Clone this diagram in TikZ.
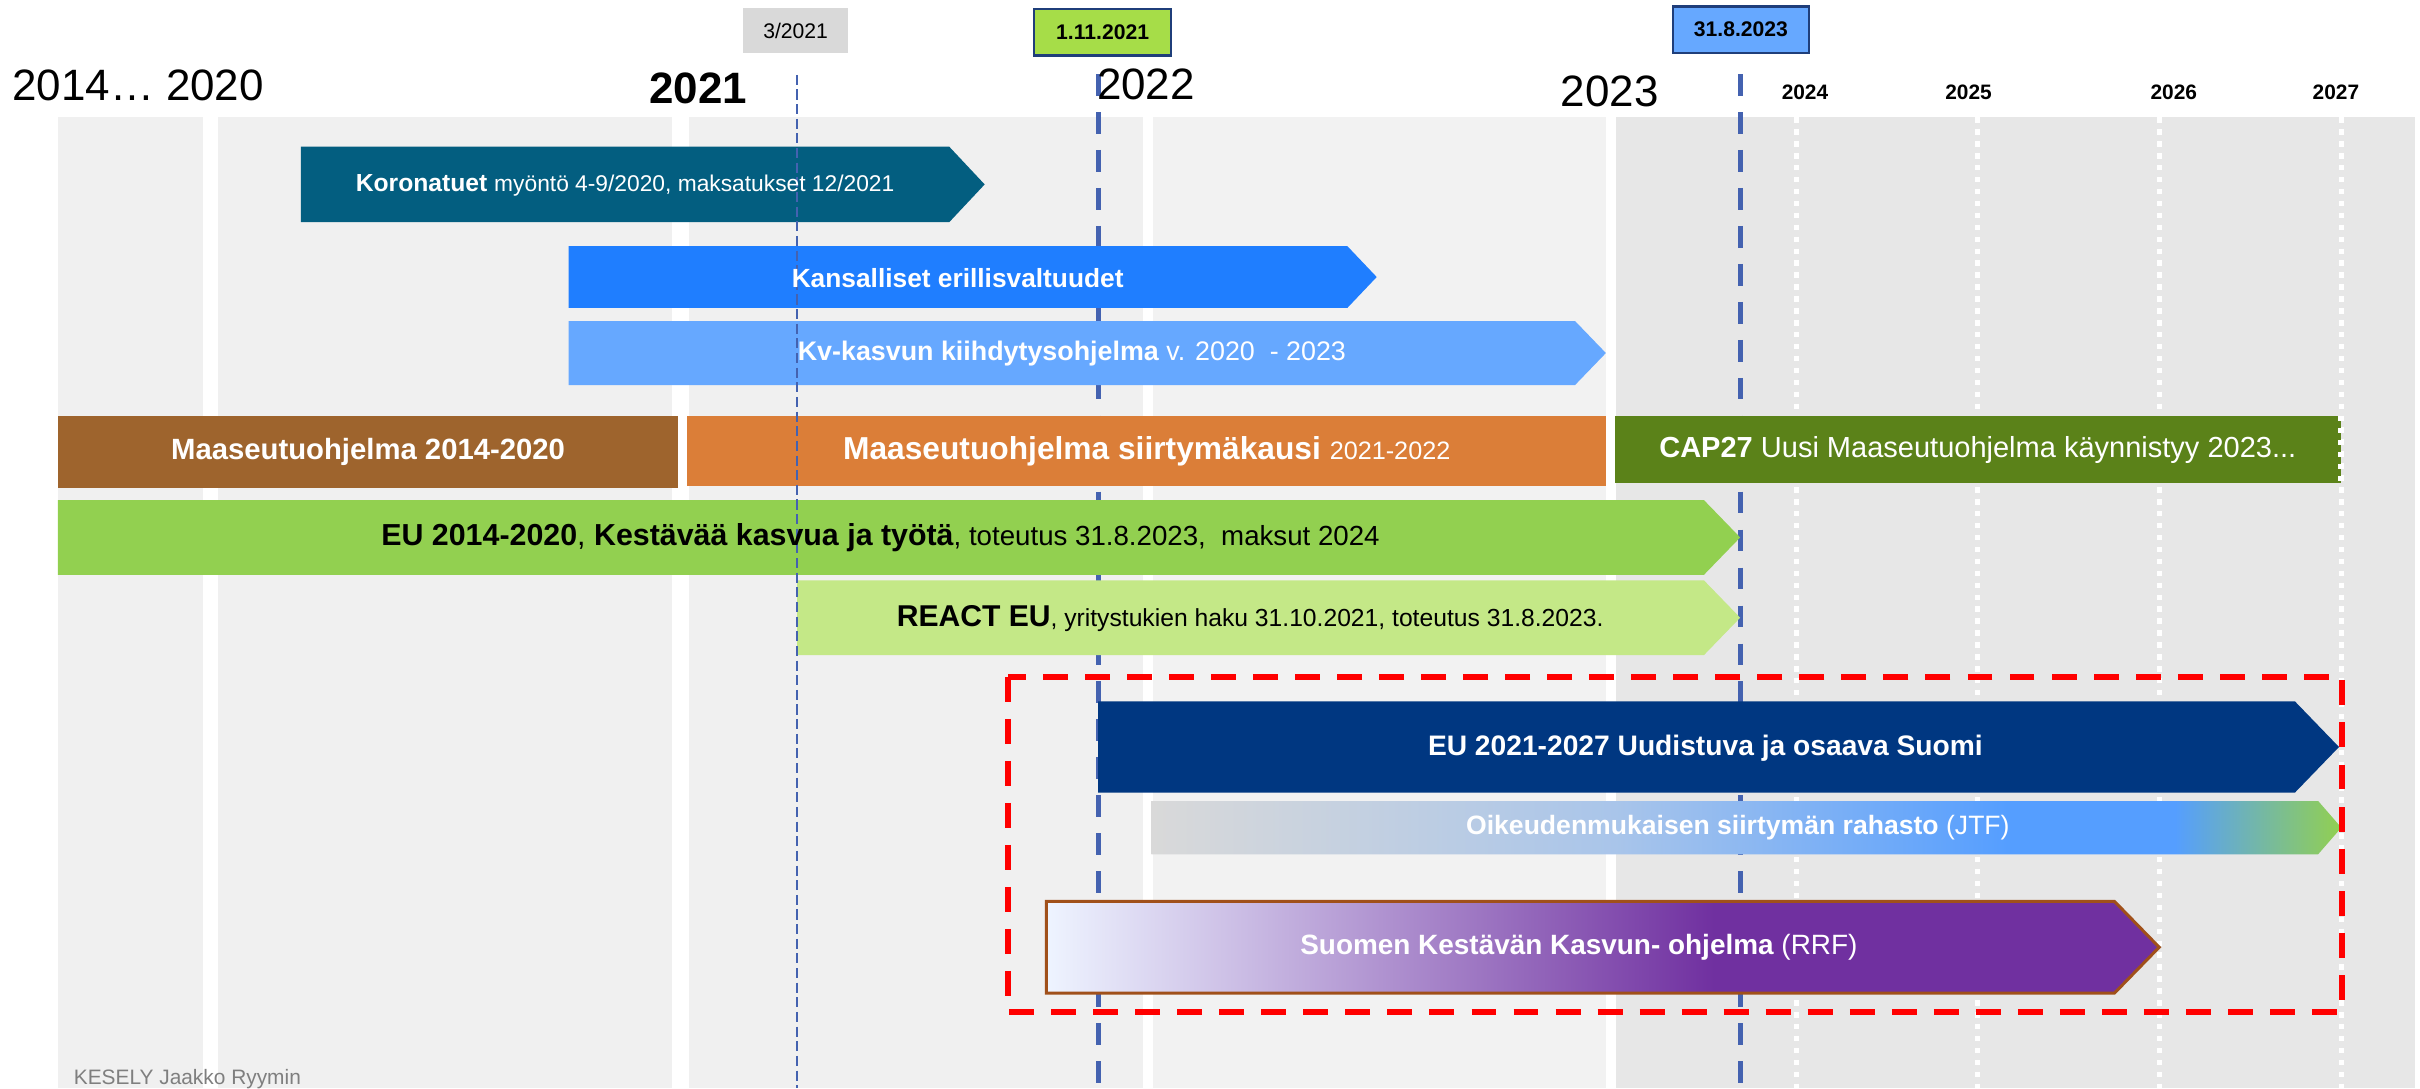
\documentclass[tikz,border=0pt]{standalone}
\usepackage{fontspec}
\setmainfont{Liberation Sans}
\newcommand\fsz[1]{\fontsize{#1}{#1}\selectfont}
\definecolor{panelA}{HTML}{F0F0F0}
\definecolor{panelB}{HTML}{F2F2F2}
\definecolor{panelC}{HTML}{E7E7E7}
\definecolor{korona}{HTML}{035E80}
\definecolor{kansal}{HTML}{1F7EFF}
\definecolor{kvk}{HTML}{66A8FF}
\definecolor{mbrown}{HTML}{9E642D}
\definecolor{morange}{HTML}{DB7E38}
\definecolor{capgreen}{HTML}{5B8219}
\definecolor{eugreen}{HTML}{92D050}
\definecolor{reactgreen}{HTML}{C4E887}
\definecolor{eunavy}{HTML}{003781}
\definecolor{dashblue}{HTML}{4462B0}
\definecolor{boxgray}{HTML}{D9D9D9}
\definecolor{boxgreen}{HTML}{A6DD48}
\definecolor{boxblue}{HTML}{66A8FF}
\definecolor{boxborder}{HTML}{1F3E7A}
\definecolor{rrfborder}{HTML}{A0501A}
\definecolor{jtfA}{HTML}{D9D9D9}
\definecolor{jtfB}{HTML}{A9C5EA}
\definecolor{jtfC}{HTML}{559EFF}
\definecolor{rrfA}{HTML}{EEF4FF}
\definecolor{rrfB}{HTML}{D2C8EA}
\definecolor{rrfC}{HTML}{7030A0}
\definecolor{credit}{HTML}{7F7F7F}
\pgfdeclarehorizontalshading{jtfshade}{100bp}{color(0bp)=(jtfA); color(25bp)=(jtfA); color(44.5bp)=(jtfB); color(61bp)=(jtfC); color(68bp)=(jtfC); color(75bp)=(eugreen); color(100bp)=(eugreen)}
\pgfdeclarehorizontalshading{rrfshade}{100bp}{color(0bp)=(rrfA); color(25bp)=(rrfA); color(32bp)=(rrfB); color(55bp)=(rrfC); color(100bp)=(rrfC)}
\tikzset{
  txt/.style={inner sep=0pt, text=white, anchor=center},
  blacktxt/.style={inner sep=0pt, text=black, anchor=center},
  yearbig/.style={inner sep=0pt, anchor=base, text=black, font=\fsz{16.2}},
  yearsmall/.style={inner sep=0pt, anchor=base, text=black, font=\fsz{7.7}\bfseries},
  datebox/.style={inner sep=0pt, font=\fsz{7.8}},
  wdot/.style={draw=white, line width=1.9pt, dash pattern=on 2pt off 2.4pt},
  tdash/.style={draw=dashblue, line width=1.9pt, dash pattern=on 8pt off 6pt},
  thdash/.style={draw=dashblue, line width=0.8pt, dash pattern=on 3.7pt off 1.7pt},
  reddash/.style={draw=red, line width=2.1pt, dash pattern=on 9.2pt off 6.3pt}
}
\begin{document}
\begin{tikzpicture}[x=0.02cm,y=-0.02cm]
\useasboundingbox (0,0) rectangle (1568,705);
\fill[white] (0,0) rectangle (1568,705);
% background year panels
\fill[panelA] (37.5,76) rectangle (131.5,705);
\fill[panelA] (141,76) rectangle (435.5,705);
\fill[panelA] (446.5,76) rectangle (740.5,705);
\fill[panelB] (747,76) rectangle (1040.5,705);
\fill[panelC] (1047,76) rectangle (1565,705);
\foreach \x in {1164,1281,1399,1517} \draw[wdot] (\x,76) -- (\x,705);
% thick dashed milestone lines
\draw[tdash] (711.5,48) -- (711.5,705);
\draw[tdash] (1127.5,48) -- (1127.5,705);
% bars
\fill[korona] (195,95) -- (615,95) -- (638,119.5) -- (615,144) -- (195,144) -- cycle;
\fill[kansal] (368.5,159.5) -- (873,159.5) -- (892,179.5) -- (873,199.5) -- (368.5,199.5) -- cycle;
\fill[kvk] (368.5,208) -- (1020.5,208) -- (1040.5,228.75) -- (1020.5,249.5) -- (368.5,249.5) -- cycle;
\fill[mbrown] (37.5,269.5) rectangle (439.5,316);
\fill[morange] (445,269.5) rectangle (1040.5,315);
\fill[capgreen] (1046.5,269.5) rectangle (1517,313);
\draw[wdot] (1516.5,269.5) -- (1516.5,313);
\fill[eugreen] (37.5,324) -- (1104,324) -- (1127.5,348.25) -- (1104,372.5) -- (37.5,372.5) -- cycle;
\fill[reactgreen] (516.5,376) -- (1104,376) -- (1127.5,400.25) -- (1104,424.5) -- (516.5,424.5) -- cycle;
\fill[eunavy] (711.5,454.5) -- (1487,454.5) -- (1515.5,484) -- (1487,513.5) -- (711.5,513.5) -- cycle;
\shade[shading=jtfshade] (746,519) -- (1502,519) -- (1517,536.25) -- (1502,553.5) -- (746,553.5) -- cycle;
\shade[shading=rrfshade, draw=rrfborder, line width=1.1pt] (678,584) -- (1370,584) -- (1399,613.75) -- (1370,643.5) -- (678,643.5) -- cycle;
% frame of the new period
\draw[reddash] (653,438.5) rectangle (1517.5,655.5);
\draw[thdash] (516.5,48.5) -- (516.5,705);
% year labels
\node[yearbig] (y2014) at (89.5,64.8) {2014… 2020};
\node[yearbig, font=\fsz{16.2}\bfseries] (y2021) at (452.5,67) {2021};
\node[yearbig] (y2022) at (742.5,64.2) {2022};
\node[yearbig] (y2023) at (1043,68.7) {2023};
\node[yearsmall] (y2024) at (1169.5,64.4) {2024};
\node[yearsmall] (y2025) at (1275.5,64.4) {2025};
\node[yearsmall] (y2026) at (1408.5,64.4) {2026};
\node[yearsmall] (y2027) at (1513.5,64.4) {2027};
% date boxes
\node[datebox, fill=boxgray, minimum width=1.36cm, minimum height=0.574cm] (d1) at (515.5,19.8) {3/2021};
\node[datebox, fill=boxgreen, draw=boxborder, line width=0.9pt, minimum width=1.774cm, minimum height=0.6cm, font=\fsz{7.8}\bfseries] (d2) at (714.4,21) {1.11.2021};
\node[datebox, fill=boxblue, draw=boxborder, line width=0.9pt, minimum width=1.76cm, minimum height=0.6cm, font=\fsz{7.8}\bfseries] (d3) at (1128,19.2) {31.8.2023};
% bar texts
\node[txt] (tkorona) at (405,120) {\fsz{9.1}\bfseries Koronatuet\ \fsz{8.4}\mdseries myöntö 4-9/2020, maksatukset 12/2021};
\node[txt] (tkansal) at (620.5,180) {\fsz{9.7}\bfseries Kansalliset erillisvaltuudet};
\node[txt] (tkvk) at (694.5,229) {\fsz{9.9}\bfseries Kv-kasvun kiihdytysohjelma\mdseries\ v. 2020\ \ - 2023};
\node[txt] (tm2014) at (238.5,293) {\fsz{10.8}\bfseries Maaseutuohjelma 2014-2020};
\node[txt] (tmsiirt) at (743,292.5) {\fsz{11.7}\bfseries Maaseutuohjelma siirtymäkausi\ \fsz{9.3}\mdseries 2021-2022};
\node[txt] (tcap) at (1281.5,291.5) {\fsz{10.7}\bfseries CAP27\ \mdseries Uusi Maaseutuohjelma käynnistyy 2023...};
\node[blacktxt] (teu14) at (570.5,348.5) {\fsz{11.2}\bfseries EU 2014-2020\mdseries, \bfseries Kestävää kasvua ja työtä\fsz{10.2}\mdseries, toteutus 31.8.2023,\ \ maksut 2024};
\node[blacktxt] (treact) at (810,400.5) {\fsz{11.1}\bfseries REACT EU\fsz{9.1}\mdseries, yritystukien haku 31.10.2021, toteutus 31.8.2023.};
\node[txt] (teu21) at (1105,484.5) {\fsz{10.4}\bfseries EU 2021-2027 Uudistuva ja osaava Suomi};
\node[txt] (tjtf) at (1126,536.5) {\fsz{9.8}\bfseries Oikeudenmukaisen siirtymän rahasto\mdseries\ (JTF)};
\node[txt] (trrf) at (1023,614) {\fsz{10.3}\bfseries Suomen Kestävän Kasvun- ohjelma\mdseries\ (RRF)};
\node[inner sep=0pt, anchor=base west, text=credit, font=\fsz{7.7}] (credit) at (47.5,702.5) {KESELY Jaakko Ryymin};
\end{tikzpicture}
\end{document}
